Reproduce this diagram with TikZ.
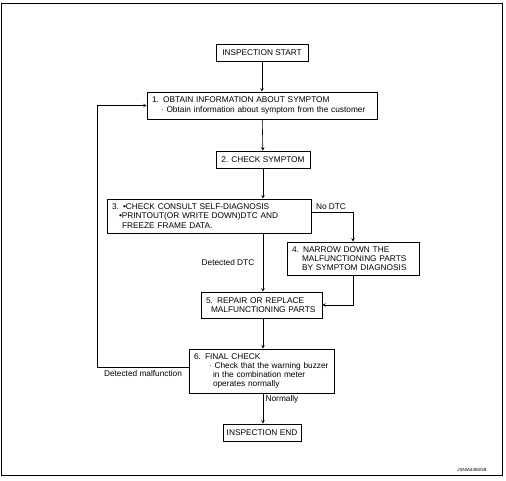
\documentclass[tikz,border=0pt]{standalone}
\usepackage{fontspec}
\setmainfont{Liberation Sans}
\usepackage{tikz}
\usetikzlibrary{positioning}

\begin{document}
\begin{tikzpicture}[x=1pt, y=1pt, >=stealth, line width=0.6pt,
    stepbox/.style={draw, align=left, inner xsep=5pt, inner ysep=2pt,
        font=\fontsize{8.3}{9.2}\selectfont},
    endbox/.style={draw, align=center, inner sep=2pt,
        font=\fontsize{8.3}{9.2}\selectfont},
    lbl/.style={font=\fontsize{8.3}{9.2}\selectfont}]
            \useasboundingbox (0, 0) rectangle (506, 480);
            \draw[line width=0.9pt] (1, 5) rectangle (502, 477);

            \node[endbox, minimum width=92, minimum height=17] (start) at (262, 427.5) {INSPECTION START};
            \node[stepbox, text width=220, minimum height=27] (obtain) at (262, 374.5)
                {1. OBTAIN INFORMATION ABOUT SYMPTOM\\\hspace*{9pt}· Obtain information about symptom from the customer};
            \node[endbox, minimum width=94, minimum height=17] (check) at (263, 320.5) {2. CHECK SYMPTOM};
            \node[stepbox, text width=194, minimum height=34] (consult) at (209, 264)
                {3. •CHECK CONSULT SELF-DIAGNOSIS\\\hspace*{7pt}•PRINTOUT(OR WRITE DOWN)DTC AND\\\hspace*{10pt}FREEZE FRAME DATA.};
            \node[stepbox, text width=122, minimum height=33] (narrow) at (353, 221.5)
                {4. NARROW DOWN THE\\\hspace*{10pt}MALFUNCTIONING PARTS\\\hspace*{10pt}BY SYMPTOM DIAGNOSIS};
            \node[stepbox, text width=111, minimum height=26] (repair) at (261.5, 175)
                {5. REPAIR OR REPLACE\\\hspace*{5pt}MALFUNCTIONING PARTS};
            \node[stepbox, inner xsep=2pt, text width=141, minimum height=44] (final) at (261.5, 109)
                {\hspace*{3pt}6. FINAL CHECK\\\hspace*{18pt}· Check that the warning buzzer\\\hspace*{22pt}in the combination meter\\\hspace*{22pt}operates normally};
            \node[endbox, minimum width=78, minimum height=17] (finish) at (262, 47.5) {INSPECTION END};

            \coordinate (loop) at (97, 113);
            \coordinate (nodtc) at (353, 268);

            \draw[->] (start) -- (obtain);
            \draw[->] (obtain) -- (check);
            \draw[->] (check) -- (consult.north -| check);
            \draw[->] (consult.south -| check) -- (repair.north -| check);
            \draw[->] (consult.east |- nodtc) -| (narrow.north);
            \draw[->] (narrow.south) |- (repair.east);
            \draw[->] (repair.south -| check) -- (final.north -| check);
            \draw[->] (final.south -| check) -- (finish.north -| check);
            \draw[->] (final.west |- loop) -- (loop) |- (obtain.west);

            \node[lbl] (lnodtc) at (331, 273) {No DTC};
            \node[lbl] (ldtc) at (228, 217) {Detected DTC};
            \node[lbl] (lmal) at (143, 106) {Detected malfunction};
            \node[lbl] (lnorm) at (282, 81) {Normally};
            \node[font=\fontsize{4.5}{5}\selectfont] (code) at (472, 10) {JSNIA4485GB};
\end{tikzpicture}
\end{document}
